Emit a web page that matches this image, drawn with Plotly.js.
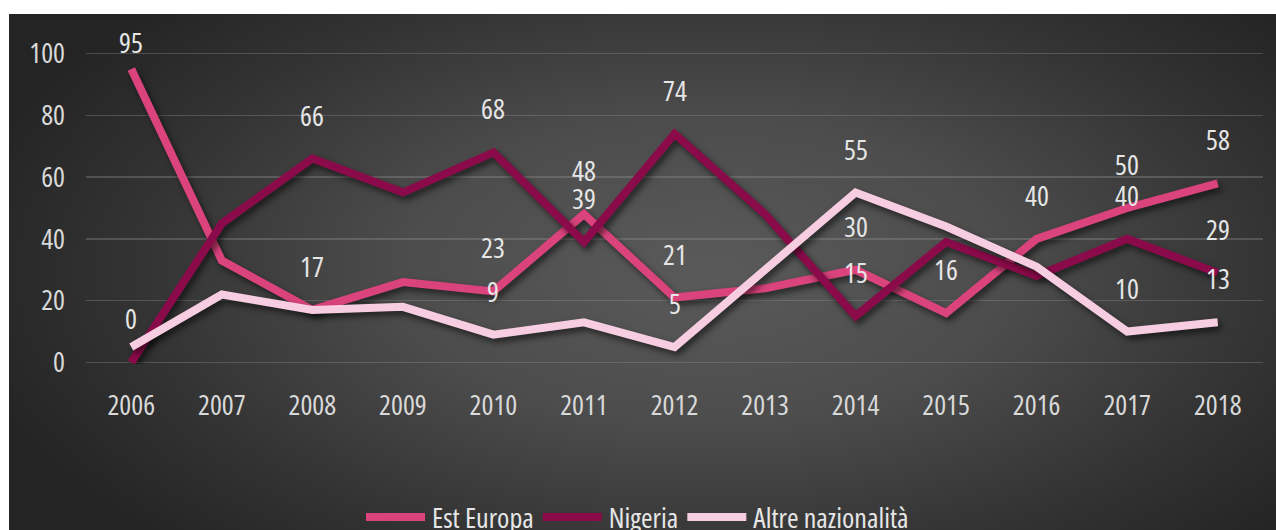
<!DOCTYPE html>
<html>
<head>
<meta charset="utf-8">
<script src="https://cdn.plot.ly/plotly-3.0.1.min.js"></script>
<style>
  html, body { margin: 0; padding: 0; background: #ffffff; }
  #wrap { position: relative; width: 1276px; height: 530px; overflow: hidden; }
  #bg { position: absolute; left: 9px; top: 14px; right: 0; bottom: 0;
        background: radial-gradient(ellipse 60% 75% at 55% 50%, #5a5a5a 0%, #4c4c4c 40%, #333333 75%, #242424 100%); }
  #chart { position: absolute; left: 0; top: 0; width: 1276px; height: 530px; }
  svg text, text { font-stretch: 75% !important; }
  #chart .scatterlayer .js-line { filter: drop-shadow(3px 4px 3px rgba(0,0,0,0.55)); }
  #chart .legend .legendlines path { d: path("M4,0h59"); }
</style>
</head>
<body>
<div id="wrap">
  <div id="bg"></div>
  <div id="chart"></div>
</div>
<script>
const years = ['2006','2007','2008','2009','2010','2011','2012','2013','2014','2015','2016','2017','2018'];
const yTicks = [0, 20, 40, 60, 80, 100];

const seriesNames = ['Est Europa', 'Nigeria', 'Altre nazionalità'];
const estEuropa = [95, 33, 17, 26, 23, 48, 21, 24, 30, 16, 40, 50, 58];
const nigeria   = [0, 45, 66, 55, 68, 39, 74, 48, 15, 39, 28, 40, 29];
const altre     = [5, 22, 17, 18, 9, 13, 5, 30, 55, 44, 31, 10, 13];

// data labels shown in the chart (null = no label)
const estEuropaLabels = [95, null, 17, null, 23, 48, 21, null, 30, 16, 40, 50, 58];
const nigeriaLabels   = [0, null, 66, null, 68, 39, 74, null, 15, null, null, 40, 29];
const altreLabels     = [null, null, null, null, 9, null, 5, null, 55, null, null, 10, 13];

const colors = ['#db437d', '#8b0a4a', '#f7cde2'];
const FONT = 'Open Sans, sans-serif';
const FS = 28;

const H = 530, MT = 52, MB = 166;
const pxPerUnit = (H - MT - MB) / 101;

const seriesVals = [estEuropa, nigeria, altre];
const seriesLabels = [estEuropaLabels, nigeriaLabels, altreLabels];

const traces = seriesVals.map((vals, i) => ({
  type: 'scatter',
  mode: 'lines',
  name: seriesNames[i],
  x: years,
  y: vals,
  line: { color: colors[i], width: 8 },
  hoverinfo: 'x+y+name'
}));

const annotations = [];
seriesLabels.forEach((labs, i) => {
  labs.forEach((lab, j) => {
    if (lab === null) return;
    const v = seriesVals[i][j];
    const shift = Math.min(44, (100 - v) * pxPerUnit + 12);
    annotations.push({
      x: j, y: v, xref: 'x', yref: 'y',
      text: String(lab), showarrow: false, yshift: shift,
      font: { family: FONT, size: FS, color: '#e6e6e6' }
    });
  });
});

const layout = {
  width: 1276, height: 530,
  margin: { l: 86, r: 13, t: MT, b: MB },
  paper_bgcolor: 'rgba(0,0,0,0)',
  plot_bgcolor: 'rgba(0,0,0,0)',
  font: { family: FONT, size: FS, color: '#d9d9d9' },
  xaxis: {
    type: 'category',
    range: [-0.5, years.length - 0.5],
    showgrid: false, zeroline: false, showline: false,
    ticks: '',
    ticklabelstandoff: 22,
    tickfont: { family: FONT, size: FS, color: '#d9d9d9' }
  },
  yaxis: {
    range: [-0.5, 100.5],
    tickvals: yTicks,
    showgrid: true, gridcolor: 'rgba(150,150,150,0.35)', gridwidth: 1.5,
    zeroline: false, showline: false, ticks: '',
    ticklabelstandoff: 20,
    tickfont: { family: FONT, size: FS, color: '#d9d9d9' }
  },
  showlegend: true,
  legend: {
    orientation: 'h',
    xref: 'container', yref: 'container',
    x: 0.5, xanchor: 'center',
    y: 0.024, yanchor: 'middle',
    font: { family: FONT, size: FS, color: '#e6e6e6' },
    bgcolor: 'rgba(0,0,0,0)',
    itemwidth: 60,
    tracegroupgap: 0
  },
  annotations: annotations
};

Plotly.newPlot('chart', traces, layout, { displayModeBar: false, staticPlot: true });
</script>
</body>
</html>
